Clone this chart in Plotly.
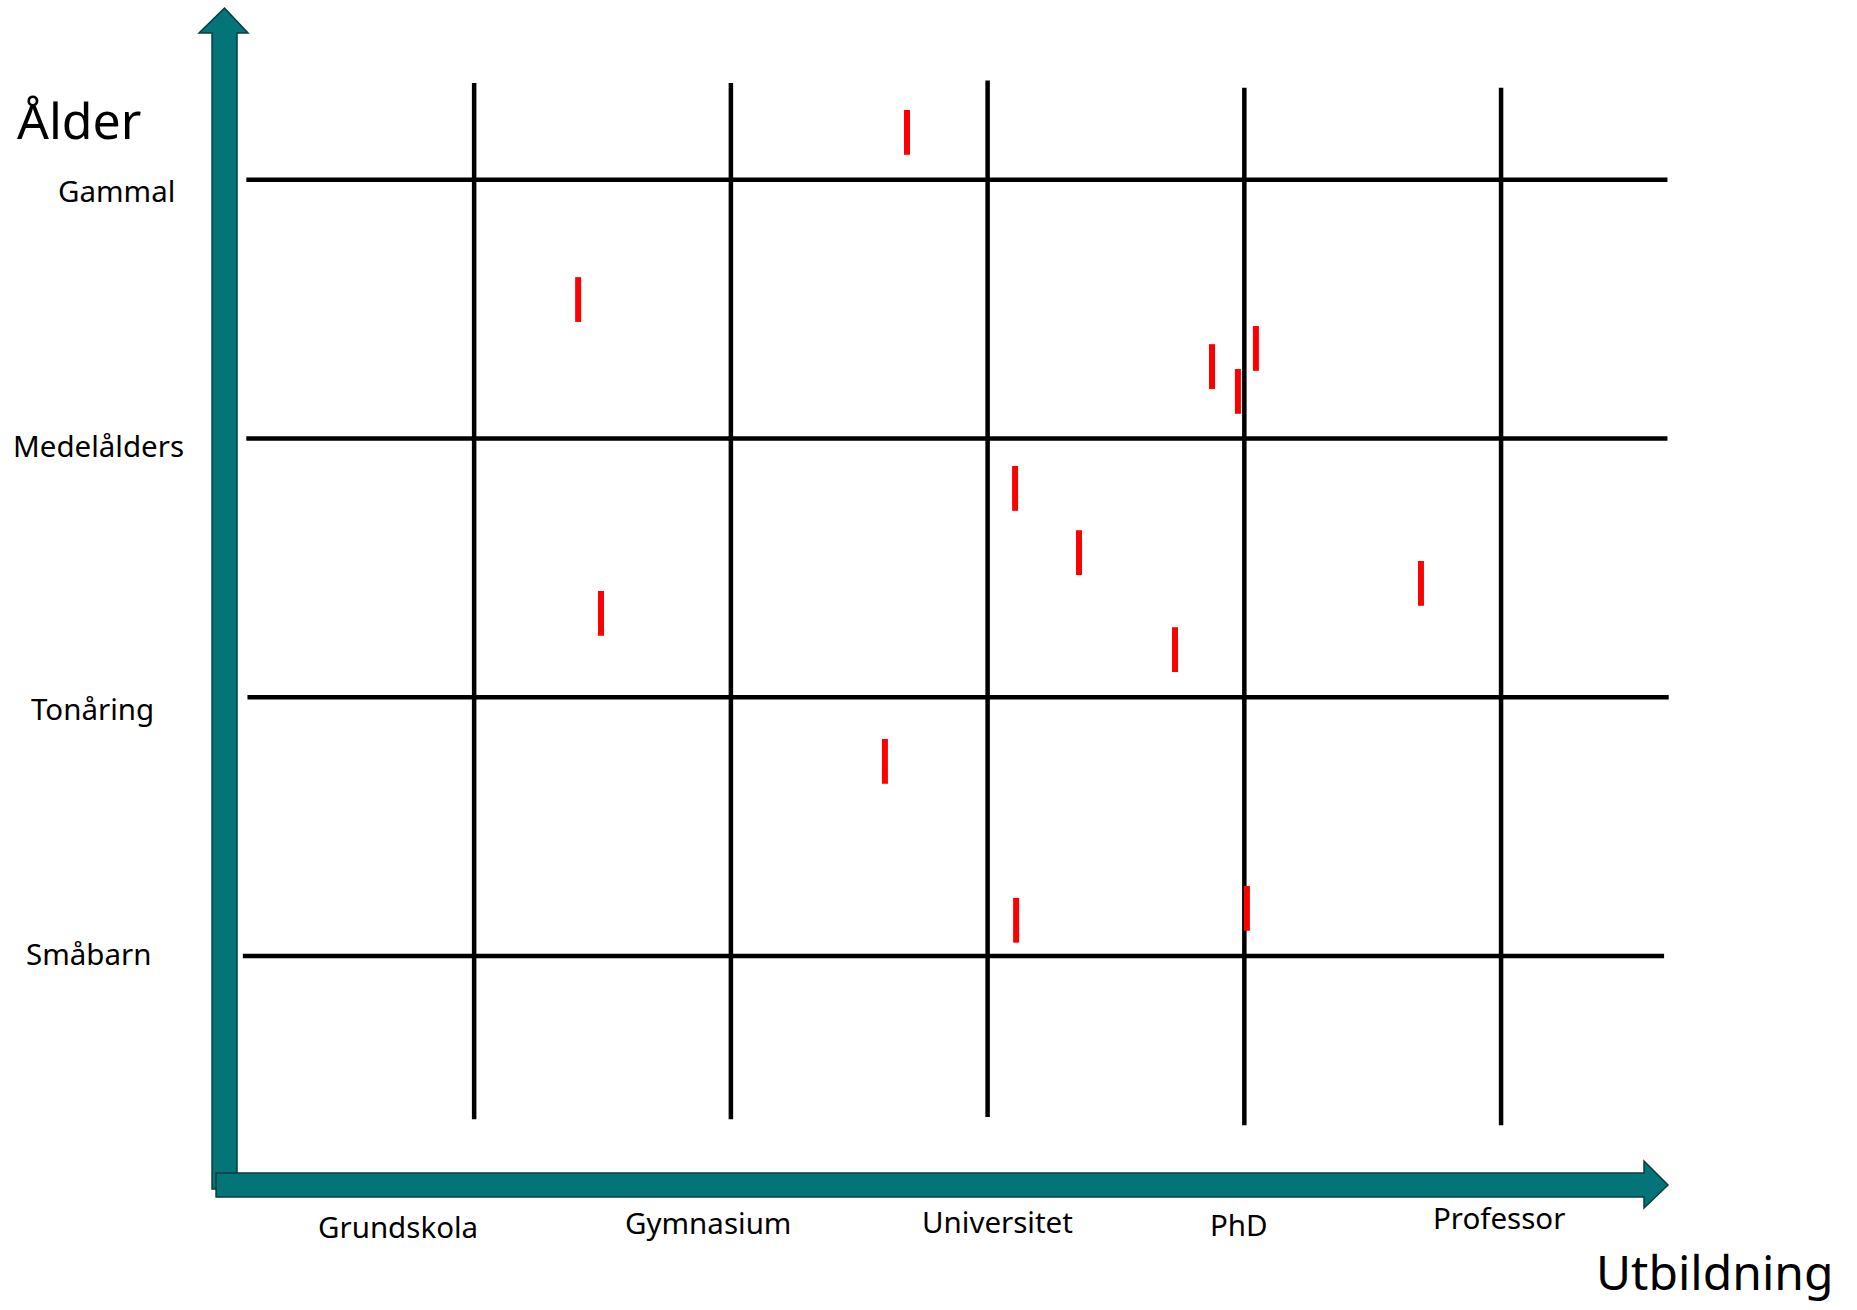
import plotly.graph_objects as go

# ---------------- data ----------------
# categories on the two axes
utbildning = ["Grundskola", "Gymnasium", "Universitet", "PhD", "Professor"]
alder = ["Småbarn", "Tonåring", "Medelålders", "Gammal"]

# grid line levels (education units / age units)
edu_grid = [1, 2, 3, 4, 5]
age_grid = [1, 2, 3, 4]

# observations: education score and age score of each person (red marks)
obs_edu = [2.686, 1.405, 3.874, 4.045, 3.975, 3.107, 3.356, 4.688, 1.494, 3.730, 2.600, 3.111, 4.010]
obs_age = [4.183, 3.537, 3.278, 3.348, 3.182, 2.807, 2.559, 2.440, 2.324, 2.184, 1.752, 1.138, 1.184]

# ---------------- layout constants ----------------
W, H = 1857, 1310
X_RANGE = [-0.8469, 6.3864]
Y_RANGE = [-0.3683, 4.6947]
FONT = "Noto Sans, Open Sans, sans-serif"
TEAL = "#037478"
TEAL_EDGE = "#0c3c3e"

# label placement (layout, not data)
edu_label_x = [0.703, 1.911, 3.040, 3.979, 4.992]
edu_label_y = [-0.044, -0.029, -0.025, -0.036, -0.009]
age_label_x = [-0.504, -0.485, -0.463, -0.393]
age_label_y = [1.011, 1.958, 2.971, 3.957]

# grid line extents
h_extent = {1: (0.099, 5.635), 2: (0.117, 5.653), 3: (0.1125, 5.648), 4: (0.1125, 5.648)}
v_extent = {1: (0.369, 4.374), 2: (0.369, 4.374), 3: (0.378, 4.384), 4: (0.346, 4.356), 5: (0.346, 4.356)}

fig = go.Figure()

shapes = []
# horizontal grid lines
for a in age_grid:
    x0, x1 = h_extent[a]
    shapes.append(dict(type="line", xref="x", yref="y", x0=x0, x1=x1, y0=a, y1=a,
                       line=dict(color="black", width=4.5), layer="below"))
# vertical grid lines
for e in edu_grid:
    y0, y1 = v_extent[e]
    shapes.append(dict(type="line", xref="x", yref="y", x0=e, x1=e, y0=y0, y1=y1,
                       line=dict(color="black", width=4.5), layer="below"))

# vertical (age) arrow
va = dict(l=-0.0210, r=0.0763, b=0.0993, hb=4.5672, hl=-0.0717, hr=0.1192, tx=0.0276, ty=4.6638)
vpath = (f"M{va['l']},{va['b']} L{va['l']},{va['hb']} L{va['hl']},{va['hb']} "
         f"L{va['tx']},{va['ty']} L{va['hr']},{va['hb']} L{va['r']},{va['hb']} L{va['r']},{va['b']} Z")
shapes.append(dict(type="path", xref="x", yref="y", path=vpath, fillcolor=TEAL,
                   line=dict(color=TEAL_EDGE, width=1.5), layer="above"))
# horizontal (education) arrow
ha = dict(l=-0.0054, t=0.1612, b=0.0684, hb=5.5568, ht=0.2075, hbot=0.0259, tx=5.6503, ty=0.1148)
hpath = (f"M{ha['l']},{ha['b']} L{ha['l']},{ha['t']} L{ha['hb']},{ha['t']} L{ha['hb']},{ha['ht']} "
         f"L{ha['tx']},{ha['ty']} L{ha['hb']},{ha['hbot']} L{ha['hb']},{ha['b']} Z")
shapes.append(dict(type="path", xref="x", yref="y", path=hpath, fillcolor=TEAL,
                   line=dict(color=TEAL_EDGE, width=1.5), layer="above"))

# red marks
fig.add_trace(go.Scatter(
    x=obs_edu, y=obs_age, mode="markers", hoverinfo="skip", showlegend=False,
    marker=dict(symbol="line-ns", size=32, color="red",
                line=dict(color="#ff0000", width=6)),
))

annotations = []
for lbl, x, y in zip(utbildning, edu_label_x, edu_label_y):
    annotations.append(dict(text=lbl, x=x, y=y, xref="x", yref="y", showarrow=False,
                            xanchor="center", yanchor="middle",
                            font=dict(family=FONT, size=29.5, color="black")))
for lbl, x, y in zip(alder, age_label_x, age_label_y):
    annotations.append(dict(text=lbl, x=x, y=y, xref="x", yref="y", showarrow=False,
                            xanchor="center", yanchor="middle",
                            font=dict(family=FONT, size=29.5, color="black")))
annotations.append(dict(text="Ålder", x=-0.541, y=4.231, xref="x", yref="y", showarrow=False,
                        xanchor="center", yanchor="middle",
                        font=dict(family=FONT, size=50, color="black")))
annotations.append(dict(text="Utbildning", x=5.833, y=-0.2176, xref="x", yref="y", showarrow=False,
                        xanchor="center", yanchor="middle", borderpad=0,
                        font=dict(family=FONT, size=48, color="black")))

fig.update_layout(
    width=W, height=H,
    margin=dict(l=0, r=0, t=0, b=0, pad=0),
    paper_bgcolor="white", plot_bgcolor="white",
    xaxis=dict(range=X_RANGE, visible=False, fixedrange=True),
    yaxis=dict(range=Y_RANGE, visible=False, fixedrange=True),
    shapes=shapes, annotations=annotations,
    hovermode=False,
)

fig.write_html("out.html", config={"displayModeBar": False, "staticPlot": True},
               post_script="document.body.style.margin='0';document.body.style.overflow='hidden';")
